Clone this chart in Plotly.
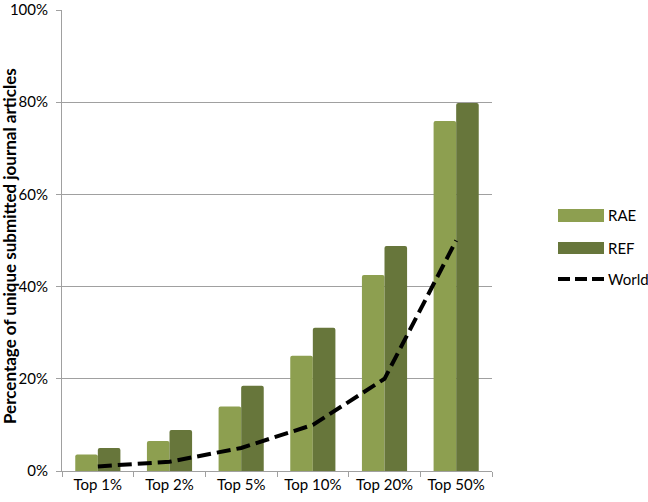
import plotly.graph_objects as go

categories = ["Top 1%", "Top 2%", "Top 5%", "Top 10%", "Top 20%", "Top 50%"]
rae = [3.6, 6.5, 14.0, 25.0, 42.5, 75.9]
ref = [5.0, 8.9, 18.5, 31.1, 48.8, 79.8]
world = [1, 2, 5, 10, 20, 50]
series_names = ["RAE", "REF", "World"]
colors = ["#8D9F50", "#67763B", "black"]
y_title = "<b>Percentage of unique submitted journal articles</b>"

FONT = "Lato"
DASH = "14px,6px"

fig = go.Figure()
fig.add_trace(go.Bar(name=series_names[0], x=categories, y=rae, marker_color=colors[0],
                     marker_line_width=0))
fig.add_trace(go.Bar(name=series_names[1], x=categories, y=ref, marker_color=colors[1],
                     marker_line_width=0))
fig.add_trace(go.Scatter(name=series_names[2], x=categories, y=world, mode="lines",
                         line=dict(color=colors[2], width=4, dash=DASH)))

# custom legend (wide swatches like the original)
L, T, B = 62, 10, 471
W, H = 648 - 156 - L, B - T
def px(x): return (x - L) / W
def py(y): return (B - y) / H

shapes = [
    dict(type="rect", xref="paper", yref="paper", x0=px(558), x1=px(604),
         y0=py(222), y1=py(209), fillcolor=colors[0], line_width=0),
    dict(type="rect", xref="paper", yref="paper", x0=px(558), x1=px(604),
         y0=py(254), y1=py(242), fillcolor=colors[1], line_width=0),
    dict(type="line", xref="paper", yref="paper", x0=px(558), x1=px(604),
         y0=py(279), y1=py(279), line=dict(color="black", width=4, dash="12px,5px")),
]
annotations = [
    dict(text=series_names[i], xref="paper", yref="paper", x=px(606), y=py(yy),
         xanchor="left", yanchor="middle", showarrow=False,
         font=dict(size=15, family=FONT, color="black"))
    for i, yy in enumerate([215.5, 248, 279])
]
annotations.append(dict(text=y_title, xref="paper", yref="paper", x=px(9), y=py(246),
                        xanchor="center", yanchor="middle", textangle=-90,
                        showarrow=False, font=dict(size=17, family=FONT, color="black")))

fig.update_layout(
    width=648, height=502,
    margin=dict(l=L, r=156, t=T, b=31, autoexpand=False),
    paper_bgcolor="white", plot_bgcolor="white",
    font=dict(family=FONT, size=15, color="black"),
    barmode="group", bargap=0.37, bargroupgap=0,
    barcornerradius=2,
    showlegend=False,
    shapes=shapes, annotations=annotations,
)
fig.update_xaxes(showline=True, linecolor="#A0A0A0", linewidth=1,
                 ticks="outside", tickson="boundaries", ticklen=5,
                 tickcolor="#A0A0A0", showgrid=False, automargin=False,
                 tickfont=dict(size=15, family=FONT))
fig.update_yaxes(range=[0, 100], dtick=20, ticksuffix="%",
                 showline=True, linecolor="#A0A0A0", linewidth=1,
                 ticks="outside", ticklen=5, tickcolor="#A0A0A0",
                 ticklabelstandoff=5, ticklabeloverflow="allow",
                 showgrid=True, gridcolor="#A0A0A0", gridwidth=1,
                 zeroline=False, automargin=False,
                 tickfont=dict(size=15, family=FONT))

fig.write_html("out.html", config={"displayModeBar": False},
               post_script="document.body.style.margin='0';document.body.style.overflow='hidden';")
